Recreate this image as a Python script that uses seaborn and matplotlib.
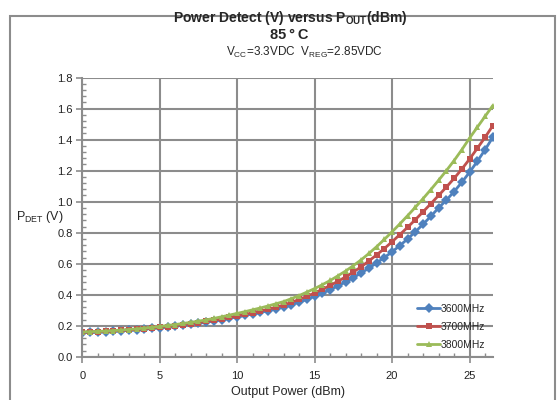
import numpy as np
import pandas as pd
import seaborn as sns
import matplotlib.pyplot as plt
from matplotlib.patches import Rectangle
from matplotlib.ticker import MultipleLocator

# output power, 0 .. 26.5 dBm in 0.5 dBm steps
pout = np.arange(0, 27, 0.5)

freqs = ["3600MHz", "3700MHz", "3800MHz"]

pdet_3600 = [0.155, 0.157, 0.159, 0.161, 0.164, 0.167, 0.170, 0.174, 0.178, 0.183,
             0.188, 0.193, 0.198, 0.204, 0.210, 0.216, 0.223, 0.231, 0.240, 0.249,
             0.258, 0.267, 0.277, 0.287, 0.298, 0.310, 0.322, 0.336, 0.352, 0.370,
             0.390, 0.411, 0.433, 0.457, 0.483, 0.511, 0.540, 0.572, 0.605, 0.640,
             0.677, 0.717, 0.760, 0.806, 0.855, 0.906, 0.960, 1.010, 1.065, 1.125,
             1.190, 1.260, 1.335, 1.415]

pdet_3700 = [0.158, 0.160, 0.162, 0.164, 0.167, 0.170, 0.173, 0.177, 0.181, 0.185,
             0.190, 0.195, 0.201, 0.207, 0.214, 0.221, 0.228, 0.236, 0.245, 0.254,
             0.263, 0.273, 0.284, 0.295, 0.307, 0.320, 0.334, 0.351, 0.370, 0.390,
             0.412, 0.435, 0.460, 0.487, 0.515, 0.547, 0.580, 0.618, 0.657, 0.698,
             0.742, 0.788, 0.835, 0.884, 0.935, 0.987, 1.040, 1.094, 1.150, 1.210,
             1.275, 1.344, 1.415, 1.490]

pdet_3800 = [0.160, 0.162, 0.164, 0.166, 0.169, 0.172, 0.176, 0.180, 0.185, 0.190,
             0.196, 0.202, 0.208, 0.215, 0.222, 0.230, 0.238, 0.248, 0.258, 0.269,
             0.280, 0.291, 0.303, 0.315, 0.328, 0.342, 0.356, 0.375, 0.395, 0.417,
             0.440, 0.465, 0.492, 0.522, 0.553, 0.588, 0.625, 0.666, 0.710, 0.757,
             0.806, 0.857, 0.910, 0.964, 1.020, 1.078, 1.138, 1.200, 1.265, 1.335,
             1.410, 1.480, 1.550, 1.620]

colors = ["#4F81BD", "#C0504D", "#9BBB59"]
markers = ["D", "s", "^"]

df = pd.concat([
    pd.DataFrame({"pout": pout, "pdet": vals, "freq": f})
    for f, vals in zip(freqs, [pdet_3600, pdet_3700, pdet_3800])
])

sns.set_theme(style="white")
plt.rcParams["font.family"] = ["Liberation Sans", "DejaVu Sans"]
plt.rcParams["mathtext.fontset"] = "custom"
plt.rcParams["mathtext.rm"] = "Liberation Sans"
plt.rcParams["mathtext.bf"] = "Liberation Sans:bold"

fig = plt.figure(figsize=(5.6, 4), dpi=100)
ax = fig.add_axes([0.147, 0.108, 0.733, 0.698])

grid_c = "#8C8C8C"

sns.lineplot(data=df, x="pout", y="pdet", hue="freq", style="freq",
             palette=colors, markers=markers, dashes=False,
             linewidth=2, markersize=4.8, markeredgewidth=0, ax=ax)

ax.set_xlim(0, 26.5)
ax.set_ylim(0, 1.8)
ax.xaxis.set_major_locator(MultipleLocator(5))
ax.xaxis.set_minor_locator(MultipleLocator(1))
ax.yaxis.set_major_locator(MultipleLocator(0.2))
ax.yaxis.set_minor_locator(MultipleLocator(0.04))
ax.yaxis.set_major_formatter(plt.FormatStrFormatter("%.1f"))
ax.grid(True, which="major", color=grid_c, linewidth=1.5)
ax.set_axisbelow(True)

for s in ["top", "right"]:
    ax.spines[s].set_visible(False)
for s in ["left", "bottom"]:
    ax.spines[s].set_color(grid_c)
    ax.spines[s].set_linewidth(1.5)

ax.tick_params(which="major", direction="out", length=4, width=1.2,
               color=grid_c, labelsize=8, labelcolor="#222222", pad=3,
               bottom=True, left=True)
ax.tick_params(axis="x", which="major", pad=6)
ax.tick_params(which="minor", direction="in", length=3, width=1,
               color=grid_c, bottom=True, left=True)

ax.set_xlabel("Output Power (dBm)", fontsize=9, labelpad=4)
ax.set_ylabel(r"P$_{\mathrm{DET}}$ (V)", fontsize=9, rotation=0,
              ha="center", va="center")
ax.yaxis.set_label_coords(-0.104, 0.5)

handles, labels = ax.get_legend_handles_labels()
ax.legend(handles, labels, loc="lower right", bbox_to_anchor=(1.0, 0.0),
          frameon=False, fontsize=7.5, handlelength=2.2, handletextpad=0.1,
          labelspacing=0.75, borderpad=0.2)

fig.text(290 / 560, 1 - 18 / 400, r"Power Detect (V) versus P$_{\mathbf{OUT}}$(dBm)",
         ha="center", va="center", fontsize=10, fontweight="bold")
fig.text(289 / 560, 1 - 35 / 400, "85\u2009°\u2009C", ha="center", va="center",
         fontsize=10.5, fontweight="bold")
fig.text(304 / 560, 1 - 52 / 400,
         r"V$_{\mathrm{CC}}$=3.3VDC  V$_{\mathrm{REG}}$=2.85VDC",
         ha="center", va="center", fontsize=8.5)

fig.patches.append(Rectangle((10 / 560, -0.1), 545 / 560, 1.08 - 8 / 400,
                             transform=fig.transFigure, fill=False,
                             edgecolor="#8C8C8C", linewidth=1.5))

fig.savefig("out.png", dpi=100, facecolor="white")
